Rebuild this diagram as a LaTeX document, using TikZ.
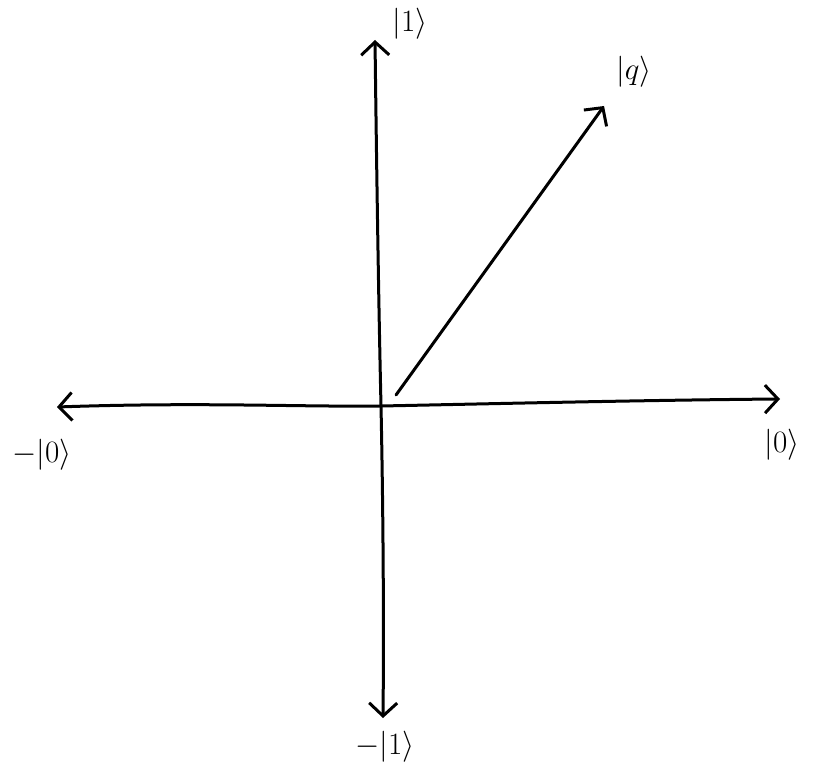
\documentclass[tikz,border=0pt]{standalone}
\usepackage{graphicx}
\usetikzlibrary{arrows.meta}
\newcommand{\biglab}[1]{\scalebox{1.25}{\Huge$#1$}}
\begin{document}
\begin{tikzpicture}[x=1pt,y=-1pt,
  tip/.tip={Straight Barb[length=13pt,width=28pt,line width=3pt]},
  axis/.style={line width=3pt,line cap=round,tip-tip},
  vec/.style={line width=3pt,line cap=round,-tip},
  lab/.style={inner sep=0pt}]
\useasboundingbox (0,0) rectangle (821,770);
\coordinate (L) at (57,407);
\coordinate (R) at (780,399);
\coordinate (T) at (375,40);
\coordinate (O) at (381,406);
\coordinate (B) at (383,718);
\coordinate (V0) at (396,395);
\coordinate (V1) at (604,106);
\draw[axis] (L) .. controls (200,402) and (300,407) .. (O) .. controls (480,404) and (650,400) .. (R);
\draw[axis] (T) .. controls (377,200) and (379,320) .. (O) .. controls (383,500) and (384,620) .. (B);
\draw[vec] (V0) -- (V1);
\node[lab] (l1) at (410,24) {\biglab{|1\rangle}};
\node[lab] (lq) at (634,72) {\biglab{|q\rangle}};
\node[lab] (lm0) at (42,455) {\biglab{-|0\rangle}};
\node[lab] (l0) at (782,445) {\biglab{|0\rangle}};
\node[lab] (lm1) at (385,747) {\biglab{-|1\rangle}};
\end{tikzpicture}
\end{document}
